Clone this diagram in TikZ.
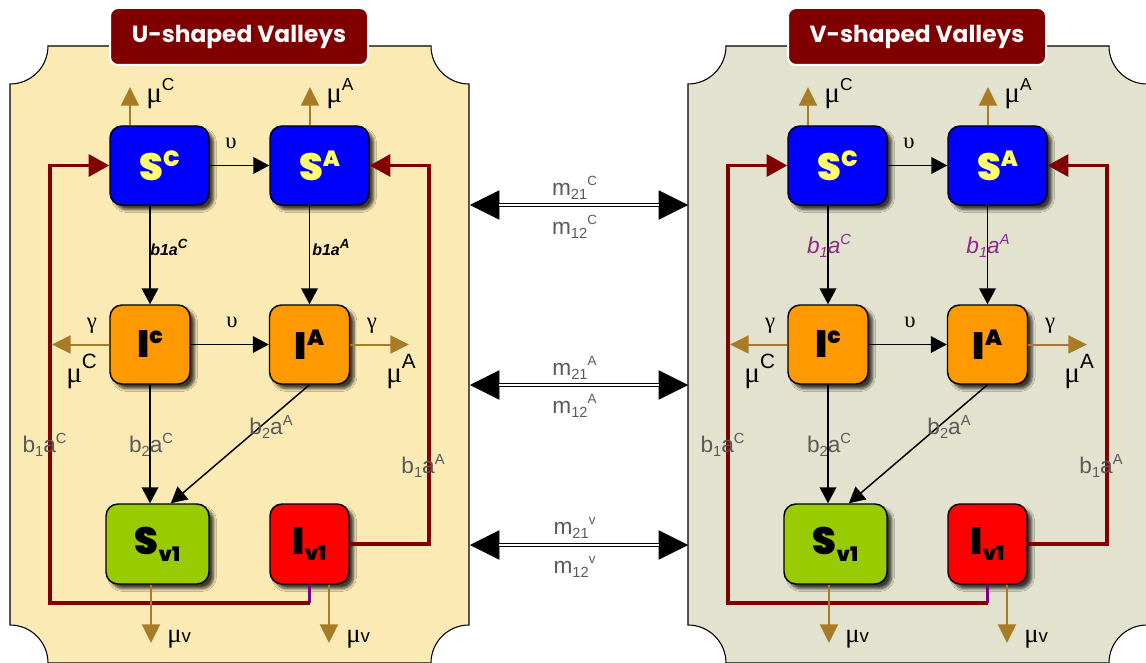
\documentclass[tikz,border=0pt]{standalone}
\usepackage{fontspec}
\setmainfont{Liberation Sans}
\newfontfamily\titlefont{Poppins}
\newfontfamily\heavyfont{Poppins}[UprightFont={* Black}]
\newfontfamily\grkfont{Liberation Serif}
\usetikzlibrary{arrows.meta,shadows.blur}
\definecolor{panelL}{RGB}{252,234,181}
\definecolor{panelR}{RGB}{226,226,206}
\definecolor{titlered}{RGB}{128,0,0}
\definecolor{gold}{RGB}{168,124,38}
\definecolor{fbred}{RGB}{128,0,0}
\definecolor{nblue}{RGB}{0,0,255}
\definecolor{norange}{RGB}{255,153,0}
\definecolor{ngreen}{RGB}{153,204,0}
\definecolor{nred}{RGB}{255,0,0}
\definecolor{syellow}{RGB}{255,255,110}
\definecolor{labgrey}{RGB}{90,90,90}
\definecolor{labpurple}{RGB}{140,40,140}
\definecolor{lineviolet}{RGB}{128,0,128}
\newcommand\myup[3]{\raisebox{#1}{\fontsize{#2}{#2}\selectfont #3}}
\newcommand\mydn[3]{\raisebox{-#1}{\fontsize{#2}{#2}\selectfont #3}}
\newcommand\mulab[4]{{\grkfont\fontsize{#1}{#1}\selectfont μ}\myup{#2}{#3}{#4}}
\newcommand\nodefont{\heavyfont\fontsize{28.5}{28.5}\selectfont}
\newcommand\greylab[2]{b\mydn{3pt}{11}{#1}a\myup{7pt}{11}{#2}}
\tikzset{
  panel/.style={draw=black, line width=0.8pt},
  titlebox/.style={fill=titlered, draw=white, line width=1.5pt, rounded corners=6pt,
    minimum width=193.5pt, minimum height=42.75pt, inner sep=0pt, text=white,
    font=\titlefont\bfseries\fontsize{17.5}{17.5}\selectfont},
  box/.style={draw=black, line width=1.1pt, rounded corners=9pt, inner sep=0pt,
    blur shadow={shadow xshift=3.5pt, shadow yshift=-3.5pt, shadow blur steps=6, shadow opacity=75}},
  blk/.style={draw=black, line width=1.1pt, -{Triangle[length=12pt,width=12.5pt]}},
  gld/.style={draw=gold, line width=1.5pt, -{Triangle[length=14pt,width=13.5pt]}},
  fb/.style={draw=fbred, line width=2.5pt, -{Triangle[length=15.5pt,width=16.5pt]}},
  vio/.style={draw=lineviolet, line width=2.5pt},
  migr/.style={draw=black, line width=3.6pt,
    {Triangle[length=22pt,width=22pt,line width=0.5pt]}-{Triangle[length=22pt,width=22pt,line width=0.5pt]}},
  migrin/.style={draw=white, line width=1.4pt, shorten <=22pt, shorten >=22pt},
  txt/.style={inner sep=0pt, text=black},
  grk/.style={inner sep=0pt, font=\grkfont\fontsize{17}{17}\selectfont},
  glab/.style={inner sep=0pt, text=labgrey, font=\fontsize{17}{17}\selectfont},
}
\newcommand\drawpanel[4]{%
\begin{scope}[shift={(#2,0)}, name prefix=#1-]
  \path[panel, fill=#3] (10,84) -- (10,625) arc[start angle=-90,end angle=0,radius=38]
    -- (431,663) arc[start angle=180,end angle=270,radius=38]
    -- (469,84) arc[start angle=90,end angle=180,radius=38]
    -- (48,46) arc[start angle=0,end angle=90,radius=38] -- cycle;
  \node[titlebox] (title) at (239,36.5) {#4};
  % compartments
  \node[box, fill=nblue, text=syellow, minimum width=74.25pt, minimum height=59.25pt] (sc) at (159.5,165.5) {\nodefont S\myup{10.5pt}{16.5}{C}};
  \node[box, fill=nblue, text=syellow, minimum width=74.25pt, minimum height=59.25pt] (sa) at (319.5,165.5) {\nodefont S\myup{10.5pt}{16.5}{A}};
  \node[box, fill=norange, text=black, minimum width=60pt, minimum height=59.25pt] (ic) at (150,344.5) {\nodefont I\myup{10.5pt}{16.5}{c}};
  \node[box, fill=norange, text=black, minimum width=60pt, minimum height=59.25pt] (ia) at (309.5,344.5) {\nodefont I\myup{10.5pt}{16.5}{A}};
  \node[box, fill=ngreen, text=black, minimum width=77.25pt, minimum height=60pt] (sv) at (157.5,544) {\nodefont S\mydn{5pt}{15}{v1}};
  \node[box, fill=nred, text=black, minimum width=59.25pt, minimum height=60pt] (iv) at (309.5,544) {\nodefont I\mydn{5pt}{15}{v1}};
  % feedback lines
  \coordinate (fbB) at (309.5,603);
  \coordinate (fbL) at (50,603);
  \coordinate (fbR) at (429,165.5);
  \draw[vio] (iv.south) -- (fbB);
  \draw[fb] (fbB) -- (fbL) |- (sc.west);
  \draw[fb] (iv.east) -| (fbR) -- (sa.east);
  % black transitions
  \draw[blk] (sc.east) -- (sa.west);
  \draw[blk] (sc.south -| ic.north) -- (ic.north);
  \draw[blk] (sa.south -| ia.north) -- (ia.north);
  \draw[blk] (ic.east) -- (ia.west);
  \draw[blk] (ic.south) -- (ic.south |- sv.north);
  \draw[blk] (ia.south) -- ([xshift=10pt]sv.north);
  % gold outflows
  \coordinate (tSC) at (130,87);
  \coordinate (tSA) at (310,87);
  \coordinate (tIC) at (52,344.5);
  \coordinate (tIA) at (409,344.5);
  \coordinate (tSV) at (151,643);
  \coordinate (tIV) at (329,643);
  \draw[gld] (sc.north -| tSC) -- (tSC);
  \draw[gld] (sa.north -| tSA) -- (tSA);
  \draw[gld] (ic.west) -- (tIC);
  \draw[gld] (ia.east) -- (tIA);
  \draw[gld] (sv.south -| tSV) -- (tSV);
  \draw[gld] (iv.south -| tIV) -- (tIV);
  % labels
  \node[txt, anchor=base west] (muSC) at (146,103) {\mulab{22}{9pt}{13}{C}};
  \node[txt, anchor=base west] (muSA) at (326,103) {\mulab{22}{9pt}{13}{A}};
  \node[txt, anchor=base west] (muIC) at (66,382) {\mulab{22}{10.5pt}{15.5}{C}};
  \node[txt, anchor=base west] (muIA) at (386,382) {\mulab{22}{10.5pt}{15.5}{A}};
  \node[txt, anchor=base west] (muSV) at (167,642) {{\grkfont\fontsize{20}{20}\selectfont μ}{\fontsize{14}{14}\selectfont v}};
  \node[txt, anchor=base west] (muIV) at (346,642) {{\grkfont\fontsize{20}{20}\selectfont μ}{\fontsize{14}{14}\selectfont v}};
  \node[grk] (upsS) at (231,143) {υ};
  \node[grk] (upsI) at (232,322) {υ};
  \node[grk] (gamC) at (92,326) {γ};
  \node[grk] (gamA) at (372,326) {γ};
  \node[glab] (b1C) at (44.5,445) {\greylab{1}{C}};
  \node[glab] (b2C) at (151,445) {\greylab{2}{C}};
  \node[glab] (b2A) at (271,427) {\greylab{2}{A}};
  \node[glab] (b1A) at (423,466) {\greylab{1}{A}};
\end{scope}}

\begin{document}
\begin{tikzpicture}[x=0.75pt,y=-0.75pt]
\useasboundingbox (0,0) rectangle (1146,663);
\fill[white] (0,0) rectangle (1146,663);
\drawpanel{L}{0}{panelL}{U-shaped Valleys}
\drawpanel{R}{678}{panelR}{V-shaped Valleys}
% infection-rate labels, U-shaped
\node[txt, anchor=base west, font=\bfseries\itshape\fontsize{12}{12}\selectfont] (Lb1aC) at (150,255) {b1a\myup{5pt}{10}{C}};
\node[txt, anchor=base west, font=\bfseries\itshape\fontsize{12}{12}\selectfont] (Lb1aA) at (312,255) {b1a\myup{5pt}{10}{A}};
% infection-rate labels, V-shaped
\node[inner sep=0pt, text=labpurple, font=\itshape\fontsize{17}{17}\selectfont] (Rb1aC) at (829,246) {\greylab{1}{C}};
\node[inner sep=0pt, text=labpurple, font=\itshape\fontsize{17}{17}\selectfont] (Rb1aA) at (988,246) {\greylab{1}{A}};
% migration arrows
\coordinate (mCl) at (470,205); \coordinate (mCr) at (688,205);
\coordinate (mAl) at (470,385); \coordinate (mAr) at (688,385);
\coordinate (mVl) at (470,545); \coordinate (mVr) at (688,545);
\draw[migr] (mCl) -- (mCr); \draw[migrin] (mCl) -- (mCr);
\draw[migr] (mAl) -- (mAr); \draw[migrin] (mAl) -- (mAr);
\draw[migr] (mVl) -- (mVr); \draw[migrin] (mVl) -- (mVr);
\node[glab] (m21C) at (574.5,188) {m\mydn{2.5pt}{11}{21}\myup{7.5pt}{10}{C}};
\node[glab] (m12C) at (574.5,227) {m\mydn{2.5pt}{11}{12}\myup{7.5pt}{10}{C}};
\node[glab] (m21A) at (574.5,368) {m\mydn{2.5pt}{11}{21}\myup{7.5pt}{10}{A}};
\node[glab] (m12A) at (574.5,406) {m\mydn{2.5pt}{11}{12}\myup{7.5pt}{10}{A}};
\node[glab] (m21V) at (574.5,528) {m\mydn{2.5pt}{11}{21}\myup{7.5pt}{10}{v}};
\node[glab] (m12V) at (574.5,567) {m\mydn{2.5pt}{11}{12}\myup{7.5pt}{10}{v}};
\end{tikzpicture}
\end{document}
